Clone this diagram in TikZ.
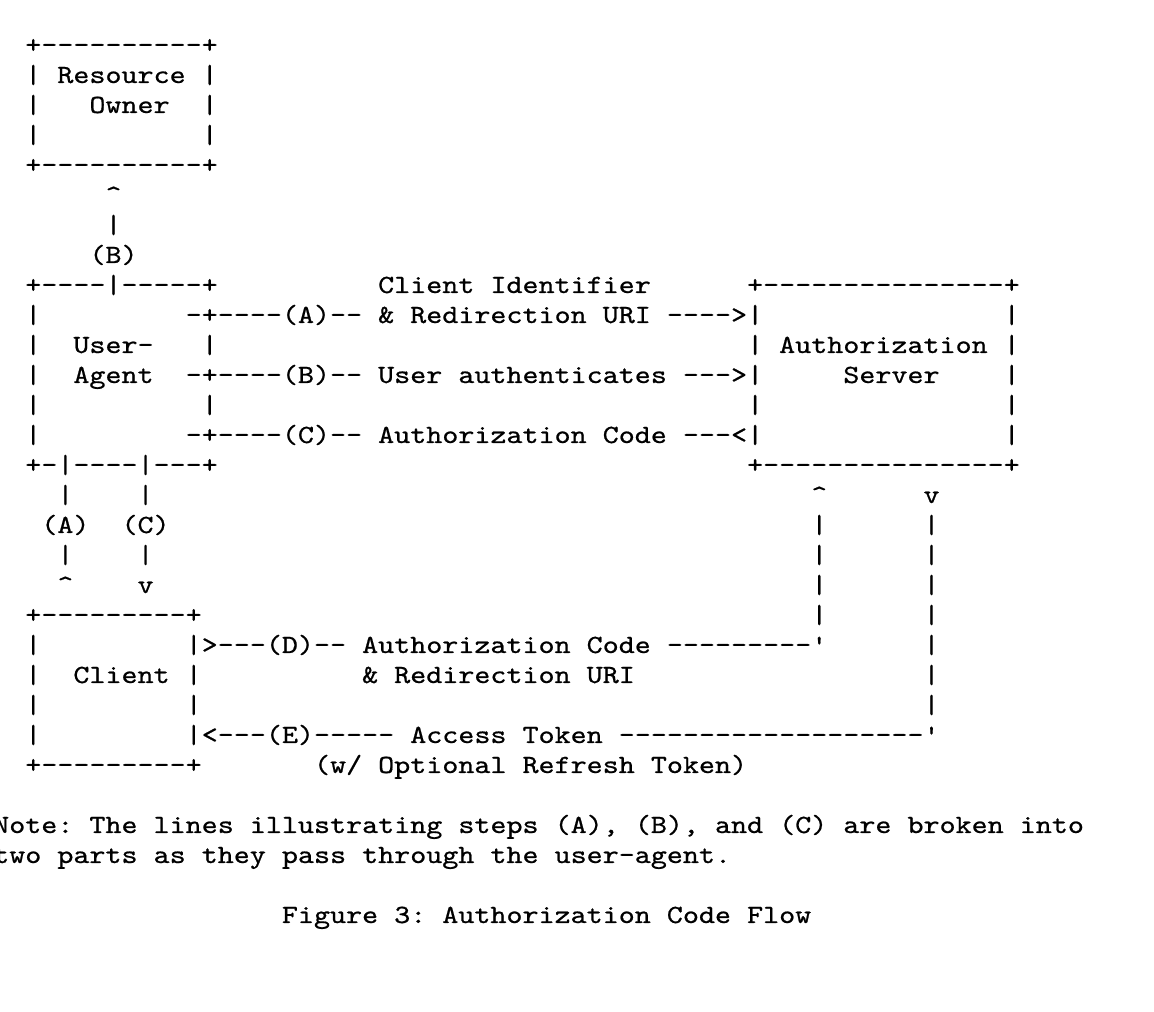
\documentclass[tikz,border=0pt]{standalone}
\usepackage{fontspec}
\setmonofont[FakeStretch=1.166,FakeBold=0.7]{lmmono10-regular.otf}
\frenchspacing
\tikzset{
  asc/.style={font=\ttfamily\fontsize{26.2pt}{30pt}\selectfont, inner sep=0pt, outer sep=0pt, anchor=base west, text=black}
}
% row, column, text
\newcommand\T[3]{\node[asc] (t#1-#2) at ({-54.9+16.04*#2}, {959-30*#1}) {#3};}
\newcommand\up{\textasciicircum}
\begin{document}
\begin{tikzpicture}[x=1pt,y=1pt]
\fill[white] (0,0) rectangle (1154,1012);
\useasboundingbox (0,0) rectangle (1154,1012);
\clip (0,0) rectangle (1154,1012);
% Resource Owner box
\T{0}{5}{+----------+}
\T{1}{5}{|}\T{1}{7}{Resource}\T{1}{16}{|}
\T{2}{5}{|}\T{2}{9}{Owner}\T{2}{16}{|}
\T{3}{5}{|}\T{3}{16}{|}
\T{4}{5}{+----------+}
\T{5}{10}{\up}
\T{6}{10}{|}
\T{7}{9}{(B)}
% User-Agent / Authorization Server
\T{8}{5}{+----|-----+}\T{8}{27}{Client}\T{8}{34}{Identifier}\T{8}{50}{+---------------+}
\T{9}{5}{|}\T{9}{15}{-+----(A)--}\T{9}{27}{\&}\T{9}{29}{Redirection}\T{9}{41}{URI}\T{9}{45}{---->|}\T{9}{66}{|}
\T{10}{5}{|}\T{10}{8}{User-}\T{10}{16}{|}\T{10}{50}{|}\T{10}{52}{Authorization}\T{10}{66}{|}
\T{11}{5}{|}\T{11}{8}{Agent}\T{11}{15}{-+----(B)--}\T{11}{27}{User}\T{11}{32}{authenticates}\T{11}{46}{--->|}\T{11}{56}{Server}\T{11}{66}{|}
\T{12}{5}{|}\T{12}{16}{|}\T{12}{50}{|}\T{12}{66}{|}
\T{13}{5}{|}\T{13}{15}{-+----(C)--}\T{13}{27}{Authorization}\T{13}{41}{Code}\T{13}{46}{---<|}\T{13}{66}{|}
\T{14}{5}{+-|----|---+}\T{14}{50}{+---------------+}
% links down to client
\T{15}{7}{|}\T{15}{12}{|}\T{15}{54}{\up}\T{15}{61}{v}
\T{16}{6}{(A)}\T{16}{11}{(C)}\T{16}{54}{|}\T{16}{61}{|}
\T{17}{7}{|}\T{17}{12}{|}\T{17}{54}{|}\T{17}{61}{|}
\T{18}{7}{\up}\T{18}{12}{v}\T{18}{54}{|}\T{18}{61}{|}
% Client box
\T{19}{5}{+---------+}\T{19}{54}{|}\T{19}{61}{|}
\T{20}{5}{|}\T{20}{15}{|>---(D)--}\T{20}{26}{Authorization}\T{20}{40}{Code}\T{20}{45}{---------'}\T{20}{61}{|}
\T{21}{5}{|}\T{21}{8}{Client}\T{21}{15}{|}\T{21}{26}{\&}\T{21}{28}{Redirection}\T{21}{40}{URI}\T{21}{61}{|}
\T{22}{5}{|}\T{22}{15}{|}\T{22}{61}{|}
\T{23}{5}{|}\T{23}{15}{|<---(E)-----}\T{23}{29}{Access}\T{23}{36}{Token}\T{23}{42}{-------------------'}
\T{24}{5}{+---------+}\T{24}{23}{(w/}\T{24}{27}{Optional}\T{24}{36}{Refresh}\T{24}{44}{Token)}
% note
\T{26}{3}{Note:}\T{26}{9}{The}\T{26}{13}{lines}\T{26}{19}{illustrating}\T{26}{32}{steps}\T{26}{38}{(A),}\T{26}{43}{(B),}\T{26}{48}{and}\T{26}{52}{(C)}\T{26}{56}{are}\T{26}{60}{broken}\T{26}{67}{into}
\T{27}{3}{two}\T{27}{7}{parts}\T{27}{13}{as}\T{27}{16}{they}\T{27}{21}{pass}\T{27}{26}{through}\T{27}{34}{the}\T{27}{38}{user-agent.}
% caption
\T{29}{21}{Figure}\T{29}{28}{3:}\T{29}{31}{Authorization}\T{29}{45}{Code}\T{29}{50}{Flow}
\end{tikzpicture}
\end{document}
